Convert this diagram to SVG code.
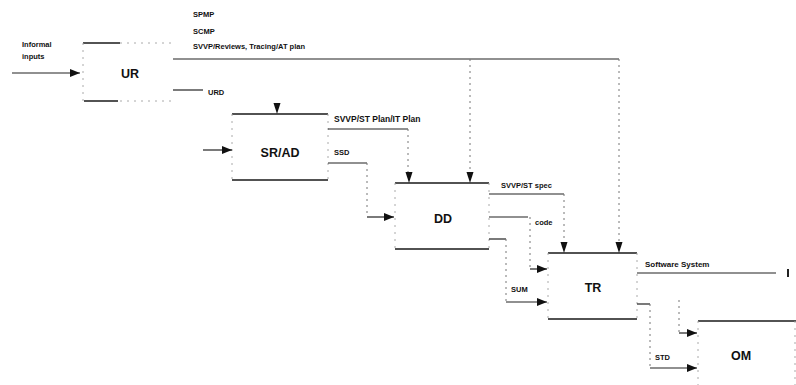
<svg xmlns="http://www.w3.org/2000/svg" width="796" height="385" viewBox="0 0 796 385">
<defs>
<marker id="ar" viewBox="0 0 10 8" refX="10" refY="4" markerWidth="10" markerHeight="8" markerUnits="userSpaceOnUse" orient="auto">
<path d="M0,0 L10,4 L0,8 Z" fill="#111"/>
</marker>
<path id="dn" d="M-3.5,-11 L3.5,-11 L0,0 Z" fill="#111"/>
</defs>
<style>
.edge{stroke:#1a1a1a;stroke-width:1.3;fill:none}
.side{stroke:#aaa;stroke-width:1;stroke-dasharray:2 5;fill:none}
.dot{stroke:#777;stroke-width:1;stroke-dasharray:2 4;fill:none}
.ln{stroke:#222;stroke-width:1.2;fill:none}
.lab{font-family:"Liberation Sans",Arial,sans-serif;font-size:12.5px;font-weight:bold;fill:#111;text-anchor:middle}
.t{font-family:"Liberation Sans",Arial,sans-serif;font-size:7.5px;font-weight:bold;fill:#111}
</style>
<rect width="796" height="385" fill="#fff"/>
<g id="UR">
<path class="edge" d="M83,43 H120"/>
<path class="side" d="M120,43 H172 M83,43 V101 M120,101 H172"/>
<path class="edge" d="M84,101 H118"/>
<text class="lab" x="130" y="78">UR</text>
</g>
<g id="SRAD">
<path class="edge" d="M232,114 H328 M232,180 H328"/>
<path class="side" d="M232,114 V180 M328,114 V180"/>
<text class="lab" x="280" y="157">SR/AD</text>
</g>
<g id="DD">
<path class="edge" d="M395,183 H489 M395,249 H489"/>
<path class="side" d="M395,183 V249 M489,183 V249"/>
<text class="lab" x="443" y="223">DD</text>
</g>
<g id="TR">
<path class="edge" d="M548,253 H637 M548,319 H637"/>
<path class="side" d="M548,253 V319 M637,253 V319"/>
<text class="lab" x="593" y="292">TR</text>
</g>
<g id="OM">
<path class="edge" d="M698,321 H796"/>
<path class="side" d="M698,321 V385 M795,321 V385"/>
<text class="lab" x="741" y="360">OM</text>
</g>
<g id="connectors">
<path class="ln" d="M12,73 H80" marker-end="url(#ar)"/>
<path class="ln" d="M173,59 H619"/>
<path class="dot" d="M470,59 V172"/>
<path class="dot" d="M619,59 V242"/>
<use href="#dn" x="470" y="183"/>
<use href="#dn" x="619" y="253"/>
<path class="ln" d="M173,90 H203"/>
<use href="#dn" x="277" y="114"/>
<path class="ln" d="M203,150 H232" marker-end="url(#ar)"/>
<path class="ln" d="M328,129 H408"/>
<path class="dot" d="M408,129 V172"/>
<use href="#dn" x="409" y="183"/>
<path class="ln" d="M328,163 H367"/>
<path class="dot" d="M367,163 V217"/>
<path class="ln" d="M367,217 H394" marker-end="url(#ar)"/>
<path class="ln" d="M489,194 H564"/>
<path class="dot" d="M564,194 V242"/>
<use href="#dn" x="564" y="253"/>
<path class="ln" d="M489,217 H528"/>
<path class="dot" d="M530,217 V269"/>
<path class="ln" d="M530,269 H547" marker-end="url(#ar)"/>
<path class="ln" d="M489,239 H506"/>
<path class="dot" d="M506,239 V302"/>
<path class="ln" d="M506,302 H547" marker-end="url(#ar)"/>
<path class="ln" d="M637,273 H776"/>
<path class="ln" d="M788,269 V277" style="stroke-width:2"/>
<path class="ln" d="M637,304 H650"/>
<path class="dot" d="M650,304 V368"/>
<path class="ln" d="M650,368 H697" marker-end="url(#ar)"/>
<path class="dot" d="M679,300 V333"/>
<path class="ln" d="M679,333 H697" marker-end="url(#ar)"/>
</g>
<g id="labels">
<text class="t" x="22" y="47">Informal</text>
<text class="t" x="22" y="59">inputs</text>
<text class="t" x="193" y="17">SPMP</text>
<text class="t" x="193" y="34">SCMP</text>
<text class="t" x="193" y="49">SVVP/Reviews, Tracing/AT plan</text>
<text class="t" x="208" y="95">URD</text>
<text class="t" x="334" y="122" style="font-size:8.5px">SVVP/ST Plan/IT Plan</text>
<text class="t" x="334" y="155">SSD</text>
<text class="t" x="501" y="188">SVVP/ST spec</text>
<text class="t" x="535" y="225">code</text>
<text class="t" x="511" y="292">SUM</text>
<text class="t" x="645" y="267" style="font-size:8px">Software System</text>
<text class="t" x="655" y="360">STD</text>
</g>
</svg>
